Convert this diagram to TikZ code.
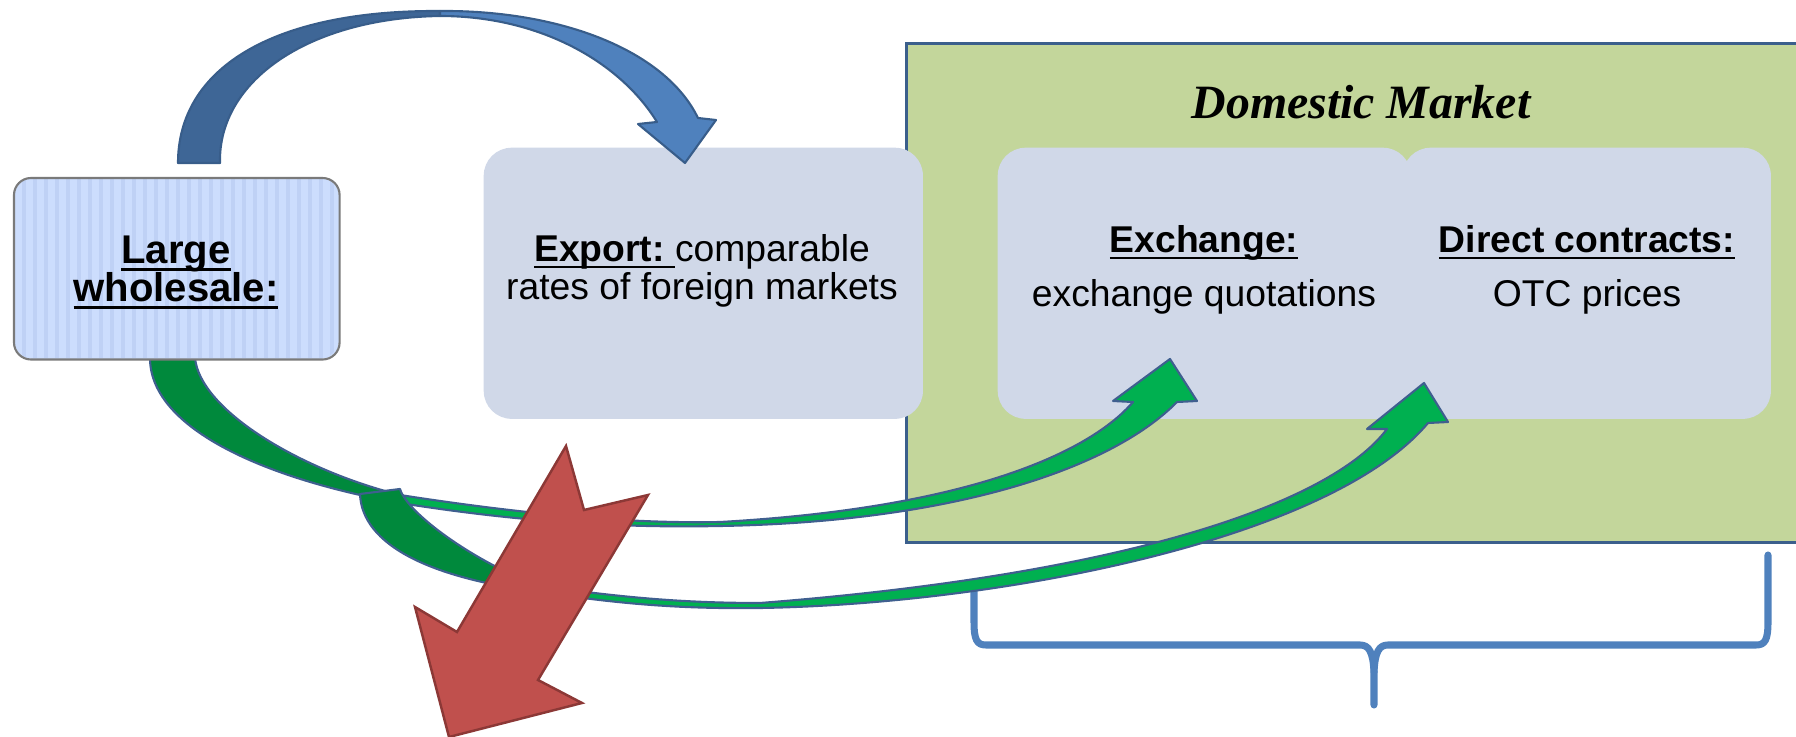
\documentclass[tikz,border=0pt]{standalone}
\usepackage{fontspec}
\setmainfont{Liberation Sans}
\newfontfamily\timesf{Liberation Serif}
\definecolor{boxgray}{HTML}{D0D8E8}
\definecolor{olivefill}{HTML}{C3D69B}
\definecolor{rectline}{HTML}{3B5F8C}
\definecolor{whfill}{HTML}{CCDDFD}
\definecolor{whstripe}{HTML}{BFD1F5}
\definecolor{whline}{HTML}{7A7A7A}
\definecolor{bluedark}{HTML}{3E6696}
\definecolor{bluelight}{HTML}{4F81BD}
\definecolor{blueline}{HTML}{385D8A}
\definecolor{greendark}{HTML}{00893C}
\definecolor{greenlight}{HTML}{00B050}
\definecolor{greenline}{HTML}{3F5F8F}
\definecolor{redfill}{HTML}{C0504D}
\definecolor{redline}{HTML}{8C3836}
\definecolor{bracec}{HTML}{4F81BD}
\newcommand\ulx[1]{\setbox0\hbox{#1}\rlap{\rule[-0.17em]{\wd0}{0.075em}}\box0}
\begin{document}
\begin{tikzpicture}[x=0.01cm,y=-0.01cm,
  panel/.style={fill=boxgray, rounded corners=0.28cm, inner sep=0pt, anchor=north west},
  lbl/.style={anchor=base, inner sep=0pt, font=\fontsize{10.6}{12}\selectfont},
  lblb/.style={anchor=base, inner sep=0pt, font=\fontsize{10.6}{12}\selectfont\bfseries},
  lblw/.style={anchor=base, inner sep=0pt, font=\fontsize{11.4}{13}\selectfont\bfseries},
  gline/.style={draw=greenline, line width=0.6pt, line join=round},
  bline/.style={draw=blueline, line width=0.6pt, line join=round},
  bracestyle/.style={draw=bracec, line width=2pt, line cap=round, line join=round}
]
\clip (0,0) rectangle (1796,737);
% domestic market area
\node[draw=rectline, line width=0.9pt, fill=olivefill, minimum width=9.2cm, minimum height=4.99cm, inner sep=0pt, anchor=north west] (dom) at (905,42) {};
% panels
\node[panel, minimum width=4.39cm, minimum height=2.71cm] (export) at (483,147) {};
\node[panel, minimum width=4.13cm, minimum height=2.71cm] (exch) at (997,147) {};
\node[panel, minimum width=3.68cm, minimum height=2.71cm] (direct) at (1402,147) {};
% brace
\draw[bracestyle] (974,587) -- (974,622) .. controls (974,640) and (977,645) .. (986,645) -- (1360,645) .. controls (1369,645) and (1373,652) .. (1374,672) -- (1374,705);
\draw[bracestyle] (1768,555) -- (1768,622) .. controls (1768,640) and (1765,645) .. (1756,645) -- (1388,645) .. controls (1379,645) and (1375,652) .. (1374,672);
% green arrow 1 (to exchange)
\path[fill=greendark, gline] (150,358) .. controls (150,430) and (270,480) .. (400,503) -- (400,495) .. controls (300,470) and (200,410) .. (195,358) -- cycle;
\path[fill=greenlight, gline] (400,503) .. controls (520,522) and (620,528) .. (720,526) .. controls (950,522) and (1110,470) .. (1177,402) -- (1197,401) -- (1170,359) -- (1113,401) -- (1133,402) .. controls (1090,452) and (970,508) .. (720,522) .. controls (620,524) and (510,512) .. (400,495) -- cycle;
% green arrow 2 (to direct contracts)
\path[fill=greendark, gline] (360,494) .. controls (362,545) and (430,578) .. (540,592) -- (540,586) .. controls (480,565) and (408,515) .. (400,489) -- cycle;
\path[fill=greenlight, gline] (540,592) .. controls (620,604) and (680,609) .. (760,608) .. controls (1000,604) and (1330,540) .. (1428,423) -- (1448,422) -- (1424,383) -- (1367,429) -- (1387,429) .. controls (1330,505) and (1120,575) .. (760,603) .. controls (680,603) and (620,597) .. (540,586) -- cycle;
% large wholesale box
\node[fill=whfill, rounded corners=0.17cm, minimum width=3.24cm, minimum height=1.80cm, inner sep=0pt, anchor=north west] (wh) at (14,178) {};
\begin{scope}
\clip[rounded corners=0.17cm] (14,178) rectangle (338,358);
\foreach \sx in {24,35,...,338} {\draw[whstripe, line width=0.9pt] (\sx,178) -- (\sx,358);}
\end{scope}
\draw[whline, line width=0.6pt, rounded corners=0.17cm] (wh.north west) rectangle (wh.south east);
% blue arrow
\path[fill=bluedark, bline] (178,163) .. controls (178,70) and (270,10) .. (440,11) -- (440,16) .. controls (310,18) and (218,80) .. (220,163) -- cycle;
\path[fill=bluelight, bline] (440,11) .. controls (560,10) and (665,50) .. (698,118) -- (716,120) -- (685,163) -- (638,124) -- (657,122) .. controls (620,62) and (540,16) .. (440,16) -- cycle;
% red arrow
\path[fill=redfill, draw=redline, line width=0.7pt, line join=miter] (566,446) -- (584,510) -- (648,495) -- (538,680) -- (582,703) -- (449,737) -- (415,607) -- (457,632) -- cycle;
% texts
\node[lblw] (t-large) at (176,264) {\ulx{Large}};
\node[lblw] (t-whole) at (176,302) {\ulx{wholesale:}};
\node[lbl] (t-exp1) at (702,262) {\ulx{\bfseries Export:\ }comparable};
\node[lbl] (t-exp2) at (702,300) {rates of foreign markets};
\node[lblb] (t-exch1) at (1204,253) {\ulx{Exchange:}};
\node[lbl] (t-exch2) at (1204,307) {exchange quotations};
\node[lblb] (t-dir1) at (1587,253) {\ulx{Direct contracts:}};
\node[lbl] (t-dir2) at (1587,307) {OTC prices};
\node[anchor=base, inner sep=0pt, font=\timesf\bfseries\itshape\fontsize{13.6}{16}\selectfont] (t-dom) at (1361,119) {Domestic Market};
\end{tikzpicture}
\end{document}
